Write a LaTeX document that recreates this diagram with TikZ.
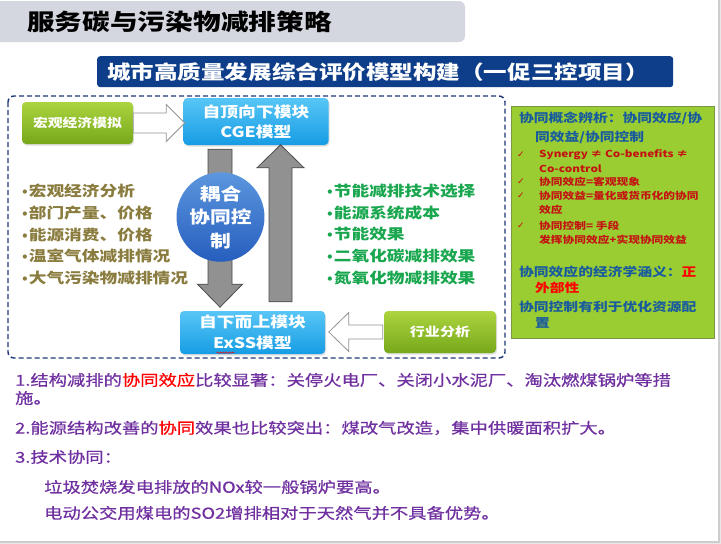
\documentclass[tikz,border=0pt]{standalone}
\usepackage{fontspec}
\usetikzlibrary{shapes.geometric,calc,shadows,decorations.pathmorphing}
\newfontfamily\zh[FakeStretch=1.22]{Noto Sans CJK SC}
\newfontfamily\zhm[FakeStretch=1.22,FakeBold=0.6]{Noto Sans CJK SC}
\newfontfamily\djv{DejaVu Sans}
\newcommand{\bdot}{{\djv\fontsize{12}{12}\selectfont •}}
\definecolor{titlebar}{RGB}{212,215,223}
\definecolor{subbar}{RGB}{14,62,138}
\definecolor{dashc}{RGB}{30,55,120}
\definecolor{greenT}{RGB}{172,212,62}
\definecolor{greenB}{RGB}{118,168,26}
\definecolor{blueT}{RGB}{88,198,246}
\definecolor{blueB}{RGB}{22,156,228}
\definecolor{ellT}{RGB}{92,150,222}
\definecolor{ellB}{RGB}{38,94,190}
\definecolor{arrgray}{RGB}{145,145,145}
\definecolor{arrline}{RGB}{75,75,75}
\definecolor{olivet}{RGB}{138,124,62}
\definecolor{leaf}{RGB}{24,166,78}
\definecolor{panel}{RGB}{154,205,50}
\definecolor{panelline}{RGB}{120,150,70}
\definecolor{pblue}{RGB}{25,92,158}
\definecolor{dred}{RGB}{196,18,18}
\definecolor{bred}{RGB}{255,0,0}
\definecolor{purp}{RGB}{112,48,160}
\definecolor{edge}{RGB}{205,205,205}
\definecolor{outside}{RGB}{232,232,232}
\begin{document}
\begin{tikzpicture}[x=1pt,y=-1pt,
  box/.style={rounded corners=4pt, inner sep=0pt, align=center, text=white,
    drop shadow={shadow xshift=1pt, shadow yshift=-1.5pt, opacity=0.25}},
  greenbox/.style={box, top color=greenT, bottom color=greenB},
  bluebox/.style={box, top color=blueT, bottom color=blueB},
  fatarrow/.style={fill=arrgray, draw=arrline, line width=0.8pt, line join=miter},
  hollow/.style={fill=white, draw=gray!85, line width=0.8pt, line join=miter},
  lt/.style={anchor=west, inner sep=0pt},
  phead/.style={lt, text=pblue, font=\zh\bfseries\fontsize{12.1}{14}\selectfont},
  pred/.style={lt, text=dred, font=\zh\bfseries\fontsize{9.6}{12}\selectfont},
  chk/.style={lt, text=dred, font=\djv\fontsize{9}{10}\selectfont},
  bot/.style={lt, text=purp, font=\zhm\fontsize{15}{18}\selectfont},
  bul/.style={lt, align=left, font=\zh\bfseries\fontsize{14.5}{21.75}\selectfont}
]
\useasboundingbox (0,0) rectangle (721,544);
% slide background
\fill[outside] (0,0) rectangle (721,544);
\fill[white] (0,0) rectangle (718,541);
\draw[edge, line width=2pt] (719,0) -- (719,542) -- (0,542);

% title bar
\fill[titlebar, rounded corners=6pt] (-10,1) rectangle (465,42);
\node[lt, font=\zh\bfseries\fontsize{22.7}{26}\selectfont] (title) at (27,22) {服务碳与污染物减排策略};

% subtitle bar
\node[fill=subbar, rounded corners=3pt, minimum width=576, minimum height=31, inner sep=0pt, anchor=north west] (subbar) at (97,56) {};
\node[lt, text=white, font=\zh\bfseries\fontsize{19.3}{22}\selectfont] (subtitle) at ($(subbar.west)+(10,0)$) {城市高质量发展综合评价模型构建（一促三控项目）};

% dashed frame
\draw[dashc, line width=1.4pt, dash pattern=on 5pt off 3pt, rounded corners=6pt] (8,96) rectangle (505,358);

% boxes
\node[greenbox, minimum width=111, minimum height=42, font=\zh\bfseries\fontsize{12.1}{14}\selectfont] (macro) at (77.5,123) {宏观经济模拟};
\node[bluebox, minimum width=145, minimum height=47, font=\zh\bfseries\fontsize{14.6}{20}\selectfont] (cge) at (256,121.5) {自顶向下模块\\CGE模型};
\node[bluebox, minimum width=145, minimum height=43, font=\zh\bfseries\fontsize{14.6}{21}\selectfont] (exss) at (252.5,332.5) {自下而上模块\\ExSS模型};
\node[greenbox, minimum width=112, minimum height=42, font=\zh\bfseries\fontsize{12.3}{14}\selectfont] (ind) at (440,332) {行业分析};
\draw[red, line width=0.5pt, decorate, decoration={snake, amplitude=0.7pt, segment length=3pt}] ($(exss.south)+(-36,-1.5)$) coordinate (w1) -- ++(18,0) coordinate (w2);

% hollow arrows
\draw[hollow] ($(macro.east)+(0,-10)$) -- ++(33,0) -- ++(0,-8.5) -- ++(18.5,18.5) -- ++(-18.5,18.5) -- ++(0,-8.5) -- ++(-33,0) -- cycle;
\draw[hollow] ($(ind.west)+(-1,-7)$) -- ++(-34,0) -- ++(0,-12.5) -- ++(-20,19.5) -- ++(20,19.5) -- ++(0,-12.5) -- ++(34,0) -- cycle;

% fat gray arrows
\coordinate (dtop) at ($(cge.south)+(-36,4)$);
\draw[fatarrow] ($(dtop)+(-12,0)$) -- ++(24,0) -- ++(0,135) -- ++(10.5,0) -- ++(-22.5,23) -- ++(-22.5,-23) -- ++(10.5,0) -- cycle;
\coordinate (ubot) at ($(exss.north)+(28,-9)$);
\draw[fatarrow] ($(ubot)+(-11.5,0)$) -- ++(23,0) -- ++(0,-134) -- ++(12,0) -- ++(-23.5,-23) -- ++(-23.5,23) -- ++(12,0) -- cycle;

% ellipse
\node[ellipse, minimum width=83, minimum height=78, inner sep=0pt, top color=ellT, bottom color=ellB, text=white, align=center, font=\zh\bfseries\fontsize{17}{23.5}\selectfont] (couple) at (220.5,217) {耦合\\协同控\\制};

% bullet lists
\node[bul, text=olivet] (leftlist) at (21,234.5) {\bdot 宏观经济分析\\\bdot 部门产量、价格\\\bdot 能源消费、价格\\\bdot 温室气体减排情况\\\bdot 大气污染物减排情况};
\node[bul, text=leaf] (rightlist) at (326,234.5) {\bdot 节能减排技术选择\\\bdot 能源系统成本\\\bdot 节能效果\\\bdot 二氧化碳减排效果\\\bdot 氮氧化物减排效果};

% right panel
\node[fill=panel, draw=panelline, line width=0.6pt, minimum width=203, minimum height=232, anchor=north west, inner sep=0pt] (panel) at (511,106) {};
\node[phead] (p1) at (519,118) {协同概念辨析：协同效应/协};
\node[phead] (p2) at (535,137) {同效益/协同控制};
\node[chk] (c1) at (517,155) {✓};
\node[pred] (r1) at (539,155) {Synergy ≠ Co-benefits ≠};
\node[pred] (r2) at (539,169) {Co-control};
\node[chk] (c2) at (517,182) {✓};
\node[pred] (r3) at (539,182) {协同效应=客观现象};
\node[chk] (c3) at (517,196) {✓};
\node[pred] (r4) at (539,196) {协同效益=量化或货币化的协同};
\node[pred] (r5) at (539,210) {效应};
\node[chk] (c4) at (517,226) {✓};
\node[pred] (r6) at (539,226) {协同控制= 手段};
\node[pred] (r7) at (539,240) {发挥协同效应+实现协同效益};
\node[phead] (p3) at (519,272) {协同效应的经济学涵义：\textcolor{bred}{正}};
\node[phead, text=bred] (p4) at (535,288) {外部性};
\node[phead] (p5) at (519,307) {协同控制有利于优化资源配};
\node[phead] (p6) at (535,323) {置};

% bottom text
\node[bot] (b1) at (15,380) {1.结构减排的\textcolor{bred}{协同效应}比较显著：关停火电厂、关闭小水泥厂、淘汰燃煤锅炉等措};
\node[bot] (b1b) at (15,398) {施。};
\node[bot] (b2) at (15,428) {2.能源结构改善的\textcolor{bred}{协同}效果也比较突出：煤改气改造，集中供暖面积扩大。};
\node[bot] (b3) at (15,457) {3.技术协同：};
\node[bot] (b4) at (44,487) {垃圾焚烧发电排放的NOx较一般锅炉要高。};
\node[bot] (b5) at (44,513) {电动公交用煤电的SO2增排相对于天然气并不具备优势。};
\end{tikzpicture}
\end{document}
